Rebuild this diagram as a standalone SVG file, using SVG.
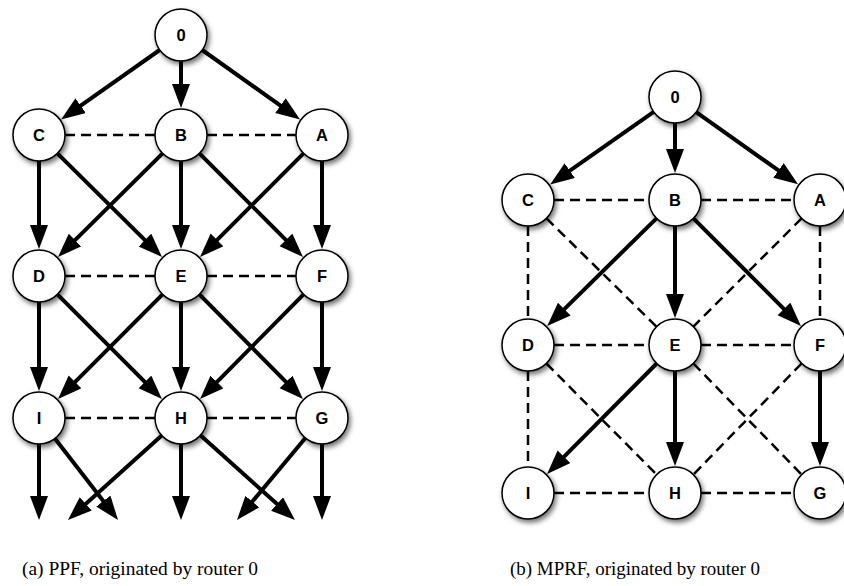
<svg xmlns="http://www.w3.org/2000/svg" width="844" height="586" viewBox="0 0 844 586">
<defs>
<marker id="ah" markerUnits="userSpaceOnUse" markerWidth="26" markerHeight="20" refX="16" refY="9" orient="auto" viewBox="0 0 26 20">
<path d="M0,0 L24,9 L0,18 z" fill="#000"/>
</marker>
<filter id="sh" x="-30%" y="-30%" width="170%" height="170%">
<feDropShadow dx="2" dy="3" stdDeviation="2.5" flood-color="#000" flood-opacity="0.55"/>
</filter>
</defs>
<style>
.n circle{fill:#fff;stroke:#000;stroke-width:1.5;filter:url(#sh)}
.n text{font-family:"Liberation Sans",Arial,sans-serif;font-weight:bold;font-size:16.5px;text-anchor:middle;dominant-baseline:central;fill:#000}
.s{stroke:#000;stroke-width:4;fill:none;marker-end:url(#ah)}
.d{stroke:#000;stroke-width:2.5;fill:none;stroke-dasharray:10 6}
.cap{font-family:"Liberation Serif","Times New Roman",serif;font-size:18px;fill:#000}
</style>
<rect width="844" height="586" fill="#fff"/>
<g id="connectors">
<!-- left diagram -->
<line class="d" x1="65" y1="135" x2="155" y2="135"/>
<line class="d" x1="207" y1="135" x2="296" y2="135"/>
<line class="d" x1="65" y1="276" x2="155" y2="276"/>
<line class="d" x1="207" y1="276" x2="296" y2="276"/>
<line class="d" x1="65" y1="418" x2="155" y2="418"/>
<line class="d" x1="207" y1="418" x2="296" y2="418"/>
<line class="s" x1="159.7" y1="50" x2="67.6" y2="114.9"/>
<line class="s" x1="181" y1="61" x2="181" y2="100"/>
<line class="s" x1="202.2" y1="50" x2="293.5" y2="114.8"/>
<line class="s" x1="39" y1="161" x2="39" y2="241"/>
<line class="s" x1="181" y1="161" x2="181" y2="241"/>
<line class="s" x1="322" y1="161" x2="322" y2="241"/>
<line class="s" x1="57.4" y1="153.4" x2="156.3" y2="251.3"/>
<line class="s" x1="162.6" y1="153.4" x2="63.7" y2="251.3"/>
<line class="s" x1="199.4" y1="153.4" x2="297.3" y2="251.3"/>
<line class="s" x1="303.6" y1="153.4" x2="205.7" y2="251.3"/>
<line class="s" x1="39" y1="302" x2="39" y2="383"/>
<line class="s" x1="181" y1="302" x2="181" y2="383"/>
<line class="s" x1="322" y1="302" x2="322" y2="383"/>
<line class="s" x1="57.4" y1="294.4" x2="156.3" y2="393.3"/>
<line class="s" x1="162.6" y1="294.4" x2="63.7" y2="393.3"/>
<line class="s" x1="199.4" y1="294.4" x2="297.3" y2="393.3"/>
<line class="s" x1="303.6" y1="294.4" x2="205.7" y2="393.3"/>
<line class="s" x1="39" y1="444" x2="39" y2="512"/>
<line class="s" x1="54.9" y1="438.6" x2="113.1" y2="513.7"/>
<line class="s" x1="161.7" y1="435.4" x2="73.9" y2="514.6"/>
<line class="s" x1="181" y1="444" x2="181" y2="512"/>
<line class="s" x1="200.4" y1="435.3" x2="289" y2="514.7"/>
<line class="s" x1="305.4" y1="438" x2="242.1" y2="513.9"/>
<line class="s" x1="322" y1="444" x2="322" y2="512"/>
<!-- right diagram -->
<line class="d" x1="554" y1="200" x2="649" y2="200"/>
<line class="d" x1="701" y1="200" x2="794" y2="200"/>
<line class="d" x1="554" y1="345" x2="649" y2="345"/>
<line class="d" x1="701" y1="345" x2="794" y2="345"/>
<line class="d" x1="554" y1="493" x2="649" y2="493"/>
<line class="d" x1="701" y1="493" x2="794" y2="493"/>
<line class="d" x1="528" y1="226" x2="528" y2="319"/>
<line class="d" x1="820" y1="226" x2="820" y2="319"/>
<line class="d" x1="528" y1="371" x2="528" y2="467"/>
<line class="d" x1="546.5" y1="218.3" x2="656.5" y2="326.7"/>
<line class="d" x1="801.6" y1="218.4" x2="693.4" y2="326.6"/>
<line class="d" x1="546.4" y1="363.5" x2="656.6" y2="474.5"/>
<line class="d" x1="801.6" y1="363.5" x2="693.4" y2="474.5"/>
<line class="d" x1="693.4" y1="363.5" x2="801.6" y2="474.5"/>
<line class="s" x1="653.7" y1="111.9" x2="556.7" y2="179.9"/>
<line class="s" x1="675" y1="123" x2="675" y2="165"/>
<line class="s" x1="696.2" y1="112.1" x2="791.5" y2="179.7"/>
<line class="s" x1="656.5" y1="218.3" x2="552.9" y2="320.4"/>
<line class="s" x1="675" y1="226" x2="675" y2="310"/>
<line class="s" x1="693.4" y1="218.4" x2="795.3" y2="320.3"/>
<line class="s" x1="656.7" y1="363.5" x2="552.7" y2="468.2"/>
<line class="s" x1="675" y1="371" x2="675" y2="458"/>
<line class="s" x1="820" y1="371" x2="820" y2="458"/>
</g>
<g id="a-0" class="n"><circle cx="181" cy="35" r="26"/><text x="181" y="35">0</text></g>
<g id="a-C" class="n"><circle cx="39" cy="135" r="26"/><text x="39" y="135">C</text></g>
<g id="a-B" class="n"><circle cx="181" cy="135" r="26"/><text x="181" y="135">B</text></g>
<g id="a-A" class="n"><circle cx="322" cy="135" r="26"/><text x="322" y="135">A</text></g>
<g id="a-D" class="n"><circle cx="39" cy="276" r="26"/><text x="39" y="276">D</text></g>
<g id="a-E" class="n"><circle cx="181" cy="276" r="26"/><text x="181" y="276">E</text></g>
<g id="a-F" class="n"><circle cx="322" cy="276" r="26"/><text x="322" y="276">F</text></g>
<g id="a-I" class="n"><circle cx="39" cy="418" r="26"/><text x="39" y="418">I</text></g>
<g id="a-H" class="n"><circle cx="181" cy="418" r="26"/><text x="181" y="418">H</text></g>
<g id="a-G" class="n"><circle cx="322" cy="418" r="26"/><text x="322" y="418">G</text></g>
<g id="b-0" class="n"><circle cx="675" cy="97" r="26"/><text x="675" y="97">0</text></g>
<g id="b-C" class="n"><circle cx="528" cy="200" r="26"/><text x="528" y="200">C</text></g>
<g id="b-B" class="n"><circle cx="675" cy="200" r="26"/><text x="675" y="200">B</text></g>
<g id="b-A" class="n"><circle cx="820" cy="200" r="26"/><text x="820" y="200">A</text></g>
<g id="b-D" class="n"><circle cx="528" cy="345" r="26"/><text x="528" y="345">D</text></g>
<g id="b-E" class="n"><circle cx="675" cy="345" r="26"/><text x="675" y="345">E</text></g>
<g id="b-F" class="n"><circle cx="820" cy="345" r="26"/><text x="820" y="345">F</text></g>
<g id="b-I" class="n"><circle cx="528" cy="493" r="26"/><text x="528" y="493">I</text></g>
<g id="b-H" class="n"><circle cx="675" cy="493" r="26"/><text x="675" y="493">H</text></g>
<g id="b-G" class="n"><circle cx="820" cy="493" r="26"/><text x="820" y="493">G</text></g>
<text class="cap" x="22" y="575" textLength="236" lengthAdjust="spacingAndGlyphs">(a) PPF, originated by router 0</text>
<text class="cap" x="510" y="575" textLength="250" lengthAdjust="spacingAndGlyphs">(b) MPRF, originated by router 0</text>
</svg>
